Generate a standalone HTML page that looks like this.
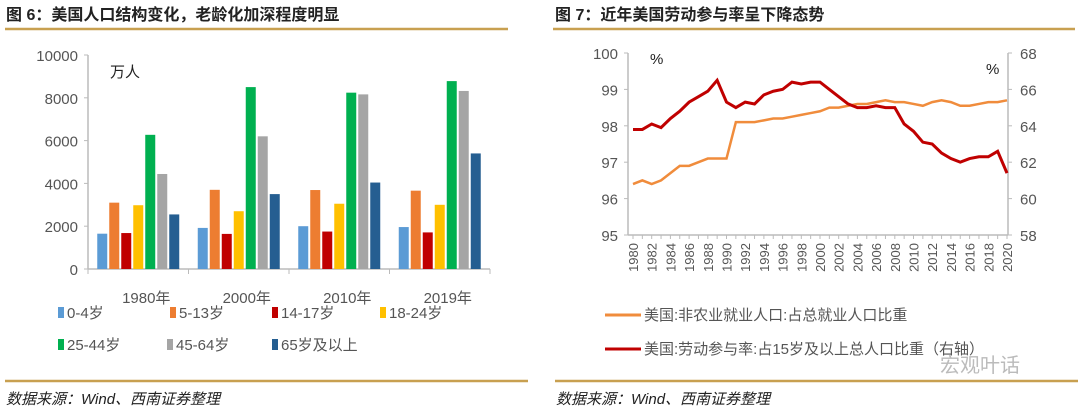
<!DOCTYPE html>
<html><head><meta charset="utf-8"><style>
body{margin:0;width:1080px;height:412px;background:#fff;overflow:hidden;font-family:"Liberation Sans","Noto Sans CJK SC",sans-serif}
svg{position:absolute;left:0;top:0}
</style></head><body>
<svg id="s" width="1080" height="412" font-family="Liberation Sans, Noto Sans CJK SC, sans-serif">
<text x="6" y="20" font-size="16" font-weight="bold" fill="#222">图 6：美国人口结构变化，老龄化加深程度明显</text>
<line x1="5" y1="29" x2="508" y2="29" stroke="#c8a050" stroke-width="2.5"/>
<text x="555" y="20" font-size="16" font-weight="bold" fill="#222">图 7：近年美国劳动参与率呈下降态势</text>
<line x1="553" y1="29" x2="1075" y2="29" stroke="#c8a050" stroke-width="2.5"/>
<line x1="5" y1="381" x2="528" y2="381" stroke="#c8a050" stroke-width="2.5"/>
<line x1="555" y1="381" x2="1078" y2="381" stroke="#c8a050" stroke-width="2.5"/>
<text x="6" y="404" font-size="15" font-style="italic" fill="#222">数据来源：Wind、西南证券整理</text>
<text x="556" y="404" font-size="15" font-style="italic" fill="#222">数据来源：Wind、西南证券整理</text>
<text x="110" y="77" font-size="15" fill="#222">万人</text>
<text x="650" y="64" font-size="15" fill="#222">%</text>
<text x="986" y="74" font-size="15" fill="#222">%</text>
<text x="940" y="372" font-size="20" fill="#bbb">宏观叶话</text>
<g id="bars"></g><g id="lines"></g>
</svg>
<script>
const groups=['1980年','2000年','2010年','2019年'];
const ages=['0-4岁','5-13岁','14-17岁','18-24岁','25-44岁','45-64岁','65岁及以上'];
const colors=['#5b9bd5','#ed7d31','#c00000','#ffc000','#00b050','#a5a5a5','#255e91'];
const v0_4=[1650,1920,2000,1960];
const v5_13=[3100,3700,3690,3660];
const v14_17=[1680,1640,1750,1710];
const v18_24=[2980,2700,3050,3000];
const v25_44=[6270,8500,8240,8780];
const v45_64=[4440,6200,8160,8320];
const v65=[2550,3500,4040,5400];
const yTicksL=[0,2000,4000,6000,8000,10000];
const years=[];for(let y=1980;y<=2020;y++)years.push(y);
const nonfarm=[96.4,96.5,96.4,96.5,96.7,96.9,96.9,97.0,97.1,97.1,97.1,98.1,98.1,98.1,98.15,98.2,98.2,98.25,98.3,98.35,98.4,98.5,98.5,98.55,98.6,98.6,98.65,98.7,98.65,98.65,98.6,98.55,98.65,98.7,98.65,98.55,98.55,98.6,98.65,98.65,98.7];
const lfpr=[63.8,63.8,64.1,63.9,64.4,64.8,65.3,65.6,65.9,66.5,65.3,65.0,65.3,65.2,65.7,65.9,66.0,66.4,66.3,66.4,66.4,66.0,65.6,65.2,65.0,65.0,65.1,65.0,65.0,64.1,63.7,63.1,63.0,62.5,62.2,62.0,62.2,62.3,62.3,62.6,61.4];
const yTicksA=[95,96,97,98,99,100];
const yTicksB=[58,60,62,64,66,68];
const series=[v0_4,v5_13,v14_17,v18_24,v25_44,v45_64,v65];
const NS='http://www.w3.org/2000/svg';
function mk(p,t,a,txt){const e=document.createElementNS(NS,t);for(const k in a)e.setAttribute(k,a[k]);if(txt!=null)e.textContent=txt;p.appendChild(e);return e;}
const B=document.getElementById('bars'),L=document.getElementById('lines');
const x0=88,x1=490,yb=269,yt=55;
const yL=v=>yb-(v/10000)*(yb-yt);
const gw=(x1-x0)/groups.length;
let e;
e=mk(B,'line',{x1:x0,y1:yt,x2:x0,y2:yb,stroke:'#bbb','stroke-width':1.5});


e=mk(B,'line',{x1:x0,y1:yb,x2:x1,y2:yb,stroke:'#bbb','stroke-width':1.5});


yTicksL.forEach(t=>{
 mk(B,'line',{x1:x0-4,y1:yL(t),x2:x0,y2:yL(t),stroke:'#bbb'});
 e=mk(B,'text',{x:x0-10,y:yL(t)+6,'font-size':15,fill:'#555','text-anchor':'end'},t);
 
 
});
for(let g=0;g<=groups.length;g++)mk(B,'line',{x1:x0+g*gw,y1:yb,x2:x0+g*gw,y2:yb+5,stroke:'#bbb'});
groups.forEach((gn,g)=>{
 e=mk(B,'text',{x:x0+g*gw+gw/2+8,y:303,'font-size':15,fill:'#555','text-anchor':'middle'},gn);
 
 
 series.forEach((s,i)=>{
  const bx=x0+g*gw+gw/2-41+i*12;
  e=mk(B,'rect',{x:bx,y:yL(s[g]),width:10,height:yb-yL(s[g]),fill:colors[i]});
  
  
 });
});
const legPos=[[58,318],[170,318],[272,318],[380,318],[58,350],[167,350],[272,350]];
ages.forEach((a,i)=>{
 e=mk(B,'rect',{x:legPos[i][0],y:legPos[i][1]-11,width:6,height:11,fill:colors[i]});
 
 
 e=mk(B,'text',{x:legPos[i][0]+9,y:legPos[i][1],'font-size':15,fill:'#555'},a);
 
 
});
const ax=628,bx2=1008,ryb=235,ryt=53;
const X=y=>633+(y-1980)*(1007-633)/40;
const YA=v=>ryb-(v-95)/5*(ryb-ryt);
const YB=v=>ryb-(v-58)/10*(ryb-ryt);
e=mk(L,'line',{x1:ax,y1:ryt,x2:ax,y2:ryb,stroke:'#bbb','stroke-width':1.5});


e=mk(L,'line',{x1:bx2,y1:ryt,x2:bx2,y2:ryb,stroke:'#bbb','stroke-width':1.5});


e=mk(L,'line',{x1:ax,y1:ryb,x2:bx2,y2:ryb,stroke:'#bbb','stroke-width':1.5});


yTicksA.forEach(t=>{
 mk(L,'line',{x1:ax-4,y1:YA(t),x2:ax,y2:YA(t),stroke:'#bbb'});
 e=mk(L,'text',{x:ax-10,y:YA(t)+6,'font-size':15,fill:'#555','text-anchor':'end'},t);
 
 
});
yTicksB.forEach(t=>{
 mk(L,'line',{x1:bx2,y1:YB(t),x2:bx2+4,y2:YB(t),stroke:'#bbb'});
 e=mk(L,'text',{x:bx2+12,y:YB(t)+6,'font-size':15,fill:'#555'},t);
 
 
});
years.forEach(y=>{
 mk(L,'line',{x1:X(y),y1:ryb,x2:X(y),y2:ryb+4,stroke:'#bbb'});
 if(y%2===0){
  e=mk(L,'text',{x:0,y:0,'font-size':13,fill:'#555','text-anchor':'end',transform:`translate(${X(y)+5},${ryb+8}) rotate(-90)`},y);
  
  
 }
});
e=mk(L,'polyline',{points:years.map((y,i)=>X(y)+','+YA(nonfarm[i])).join(' '),fill:'none',stroke:'#f08c3c','stroke-width':2.5});


e=mk(L,'polyline',{points:years.map((y,i)=>X(y)+','+YB(lfpr[i])).join(' '),fill:'none',stroke:'#c00000','stroke-width':3});


[['#f08c3c','美国:非农业就业人口:占总就业人口比重',320],['#c00000','美国:劳动参与率:占15岁及以上总人口比重（右轴）',354]].forEach(l=>{
 mk(L,'line',{x1:605,y1:l[2]-5,x2:641,y2:l[2]-5,stroke:l[0],'stroke-width':3});
 e=mk(L,'text',{x:644,y:l[2],'font-size':15,fill:'#555'},l[1]);
 
 
});
</script>
</body></html>
